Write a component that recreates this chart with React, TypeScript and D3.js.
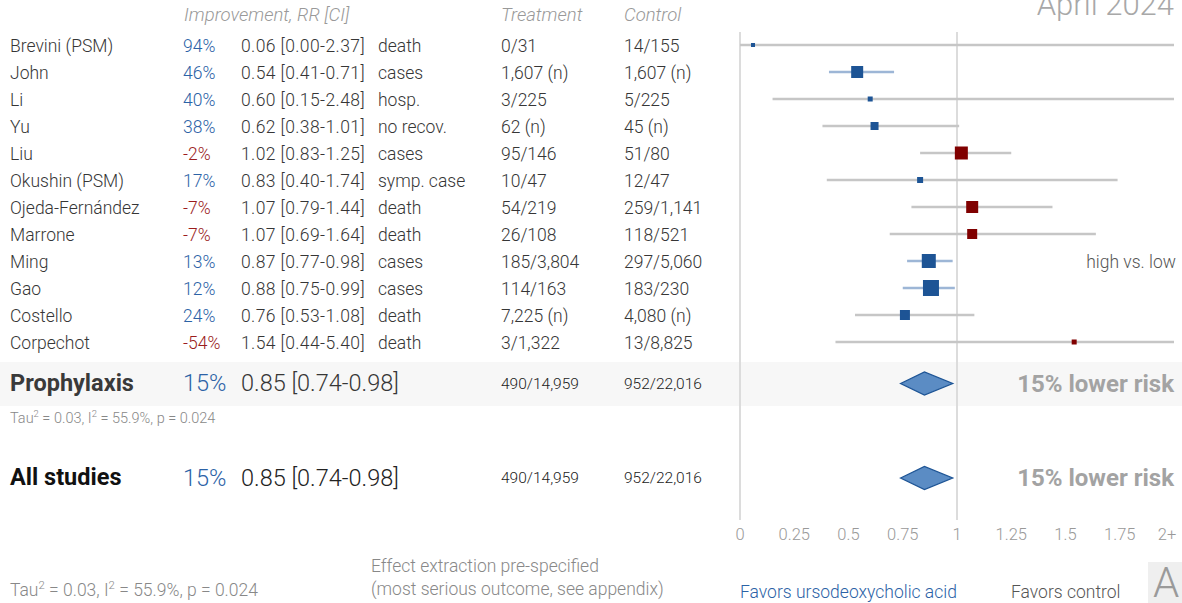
import React from "react";
import * as d3 from "d3";

// Study rows
const studies = [
  "Brevini (PSM)", "John", "Li", "Yu", "Liu", "Okushin (PSM)",
  "Ojeda-Fernández", "Marrone", "Ming", "Gao", "Costello", "Corpechot",
];
const rr = [0.06, 0.54, 0.6, 0.62, 1.02, 0.83, 1.07, 1.07, 0.87, 0.88, 0.76, 1.54];
const ciLow = [0.0, 0.41, 0.15, 0.38, 0.83, 0.4, 0.79, 0.69, 0.77, 0.75, 0.53, 0.44];
const ciHigh = [2.37, 0.71, 2.48, 1.01, 1.25, 1.74, 1.44, 1.64, 0.98, 0.99, 1.08, 5.4];
const improvement = ["94%", "46%", "40%", "38%", "-2%", "17%", "-7%", "-7%", "13%", "12%", "24%", "-54%"];
const outcomes = ["death", "cases", "hosp.", "no recov.", "cases", "symp. case", "death", "death", "cases", "cases", "death", "death"];
const treatment = ["0/31", "1,607 (n)", "3/225", "62 (n)", "95/146", "10/47", "54/219", "26/108", "185/3,804", "114/163", "7,225 (n)", "3/1,322"];
const control = ["14/155", "1,607 (n)", "5/225", "45 (n)", "51/80", "12/47", "259/1,141", "118/521", "297/5,060", "183/230", "4,080 (n)", "13/8,825"];
const weights = [16, 144, 25, 64, 169, 36, 144, 100, 196, 256, 100, 25];

// Pooled results
const pooledRR = 0.85;
const pooledLow = 0.74;
const pooledHigh = 0.98;
const pooledPct = "15%";
const pooledTreat = "490/14,959";
const pooledCtrl = "952/22,016";
const heterogeneity = { tau2: "0.03", i2: "55.9%", p: "0.024" };

const ticks = [0, 0.25, 0.5, 0.75, 1, 1.25, 1.5, 1.75, 2];
const tickLabels = ["0", "0.25", "0.5", "0.75", "1", "1.25", "1.5", "1.75", "2+"];

const W = 1182;
const H = 603;
const FONT = "Roboto, 'Noto Sans', sans-serif";
const BLUE_TXT = "#2c62a6";
const RED_TXT = "#9b1c1c";
const BLUE_MARK = "#1d5495";
const RED_MARK = "#800000";
const TEXT = "#363636";
const ROW_FS = 17.5;
const BIG_FS = 23.5;

export default function App() {
  const x = d3.scaleLinear().domain([0, 2]).range([740, 1174]).clamp(true);
  const y = d3.scaleBand<number>().domain(d3.range(studies.length)).range([31.5, 355.5]);
  const yc = (i: number) => (y(i) as number) + y.bandwidth() / 2;
  const side = d3.scaleSqrt().domain([0, 256]).range([0, 16]);

  const colCols = { name: 10, pct: 183, rr: 241, outcome: 378, treat: 501, ctrl: 624 };

  const diamond = (cy: number) => {
    const h = 11.5;
    return `M${x(pooledLow)},${cy} L${x(pooledRR)},${cy - h} L${x(pooledHigh)},${cy} L${x(pooledRR)},${cy + h} Z`;
  };

  const tauText = (size: number, xx: number, yy: number) => (
    <text x={xx} y={yy} fontSize={size} fill="#888" fontFamily={FONT} fontWeight={300}>
      Tau<tspan dy={-size * 0.4} fontSize={size * 0.65}>2</tspan>
      <tspan dy={size * 0.4}>{` = ${heterogeneity.tau2}, I`}</tspan>
      <tspan dy={-size * 0.4} fontSize={size * 0.65}>2</tspan>
      <tspan dy={size * 0.4}>{` = ${heterogeneity.i2}, p = ${heterogeneity.p}`}</tspan>
    </text>
  );

  const fmt = (v: number) => v.toFixed(2);

  return (
    <svg width={W} height={H} style={{ position: "absolute", left: 0, top: 0, background: "#fff" }} fontFamily={FONT}>
      {/* date stamp */}
      <text x={1174} y={15} textAnchor="end" fontSize={31} fill="#a8a8a8" fontWeight={300}>April 2024</text>

      {/* headers */}
      <g fontStyle="italic" fontSize={18.5} fill="#999" fontWeight={300}>
        <text x={184} y={21}>Improvement, RR [CI]</text>
        <text x={colCols.treat} y={21}>Treatment</text>
        <text x={colCols.ctrl} y={21}>Control</text>
      </g>

      {/* prophylaxis band */}
      <rect x={0} y={362} width={W} height={44} fill="#f7f7f7" />

      {/* reference lines */}
      <line x1={x(0)} x2={x(0)} y1={32} y2={520} stroke="#dcdcdc" strokeWidth={2} />
      <line x1={x(1)} x2={x(1)} y1={32} y2={520} stroke="#dcdcdc" strokeWidth={2} />

      {/* study rows */}
      {studies.map((s, i) => {
        const cy = yc(i);
        const good = rr[i] < 1;
        const sig = ciHigh[i] < 1;
        const sz = side(weights[i]);
        const by = cy + 6.5;
        return (
          <g key={s}>
            <g fontSize={ROW_FS} fill={TEXT} fontWeight={300}>
              <text x={colCols.name} y={by}>{s}</text>
              <text x={colCols.pct} y={by} fill={good ? BLUE_TXT : RED_TXT}>{improvement[i]}</text>
              <text x={colCols.rr} y={by} letterSpacing={0.4}>{`${fmt(rr[i])} [${fmt(ciLow[i])}-${fmt(ciHigh[i])}]`}</text>
              <text x={colCols.outcome} y={by}>{outcomes[i]}</text>
              <text x={colCols.treat} y={by}>{treatment[i]}</text>
              <text x={colCols.ctrl} y={by}>{control[i]}</text>
            </g>
            <line x1={x(ciLow[i])} x2={x(ciHigh[i])} y1={cy} y2={cy}
              stroke={sig ? "#9db6d6" : "#c6c6c6"} strokeWidth={2.5} />
            <rect x={x(rr[i]) - sz / 2} y={cy - sz / 2} width={sz} height={sz}
              fill={good ? BLUE_MARK : RED_MARK} />
          </g>
        );
      })}

      <text x={1176} y={yc(8) + 6.5} textAnchor="end" fontSize={17.5} fill="#555" fontWeight={300}>high vs. low</text>

      {/* pooled: prophylaxis */}
      <text x={10} y={391} fontSize={BIG_FS} fontWeight={700} fill="#3a3a3a">Prophylaxis</text>
      <text x={183} y={391} fontSize={BIG_FS} fill={BLUE_TXT} fontWeight={300}>{pooledPct}</text>
      <text x={241} y={391} fontSize={BIG_FS} fill={TEXT} fontWeight={300}>{`${fmt(pooledRR)} [${fmt(pooledLow)}-${fmt(pooledHigh)}]`}</text>
      <text x={colCols.treat} y={389} fontSize={15.5} fill="#222" fontWeight={300}>{pooledTreat}</text>
      <text x={colCols.ctrl} y={389} fontSize={15.5} fill="#222" fontWeight={300}>{pooledCtrl}</text>
      <path d={diamond(383.5)} fill="#5b8cc4" stroke={BLUE_MARK} strokeWidth={1.3} />
      <text x={1174} y={392} textAnchor="end" fontSize={24} fontWeight={700} fill="#a3a3a3">{`${pooledPct} lower risk`}</text>
      {tauText(14.5, 10, 423)}

      {/* pooled: all studies */}
      <text x={10} y={485} fontSize={BIG_FS} fontWeight={700} fill="#111">All studies</text>
      <text x={183} y={486} fontSize={BIG_FS} fill={BLUE_TXT} fontWeight={300}>{pooledPct}</text>
      <text x={241} y={486} fontSize={BIG_FS} fill="#222" fontWeight={300}>{`${fmt(pooledRR)} [${fmt(pooledLow)}-${fmt(pooledHigh)}]`}</text>
      <text x={colCols.treat} y={483} fontSize={15.5} fill="#222" fontWeight={300}>{pooledTreat}</text>
      <text x={colCols.ctrl} y={483} fontSize={15.5} fill="#222" fontWeight={300}>{pooledCtrl}</text>
      <path d={diamond(478)} fill="#5b8cc4" stroke={BLUE_MARK} strokeWidth={1.3} />
      <text x={1174} y={486} textAnchor="end" fontSize={24} fontWeight={700} fill="#a3a3a3">{`${pooledPct} lower risk`}</text>

      {/* axis labels */}
      {ticks.map((t, i) => (
        <text key={t} x={i === ticks.length - 1 ? x(t) - 7 : x(t)} y={540} textAnchor="middle"
          fontSize={16.5} fill="#999" fontWeight={300}>{tickLabels[i]}</text>
      ))}

      {/* footer */}
      {tauText(17.5, 10, 596)}
      <text x={371} y={572} fontSize={17.5} fill="#888" fontWeight={300}>Effect extraction pre-specified</text>
      <text x={371} y={595} fontSize={17.5} fill="#888" fontWeight={300}>(most serious outcome, see appendix)</text>
      <text x={740} y={598} fontSize={17.5} fill={BLUE_TXT} fontWeight={300}>Favors ursodeoxycholic acid</text>
      <text x={1011} y={598} fontSize={17.5} fill="#555" fontWeight={300}>Favors control</text>
      <rect x={1148} y={562} width={34} height={41} fill="#efefef" />
      <text x={1166} y={597} textAnchor="middle" fontSize={42} fill="#9a9a9a" fontWeight={300}>A</text>
    </svg>
  );
}
